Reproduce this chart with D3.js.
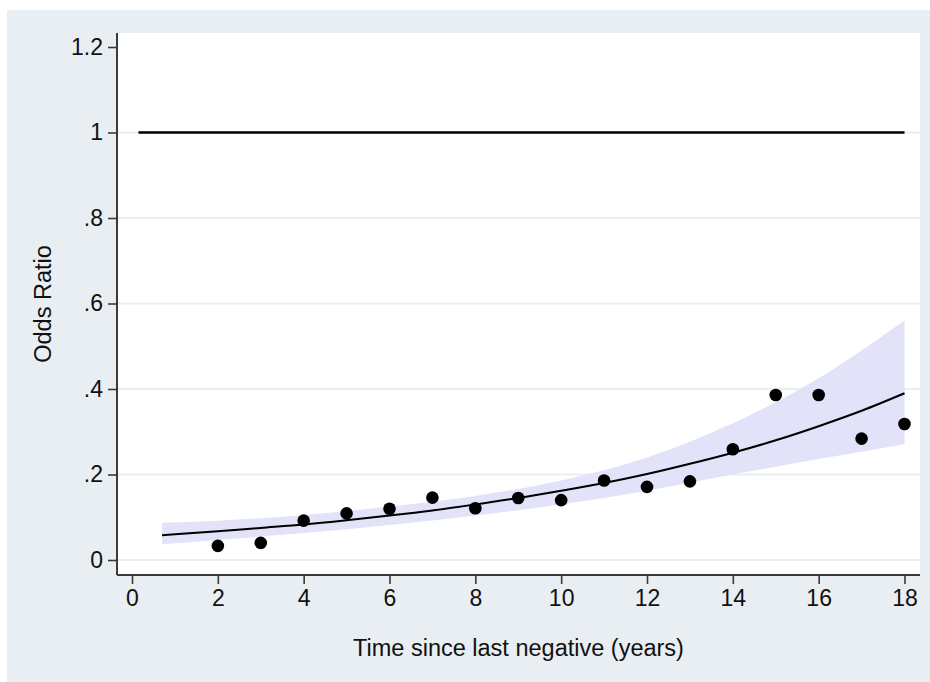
<!DOCTYPE html>
<html>
<head>
<meta charset="utf-8">
<script src="https://cdn.jsdelivr.net/npm/d3@7"></script>
<style>
  html, body { margin: 0; padding: 0; background: #ffffff; }
  svg text { font-family: "Liberation Sans", Arial, sans-serif; fill: #111; }
</style>
</head>
<body>
<svg id="chart"></svg>
<script>
// observed odds ratios by year since last negative
var years = [2, 3, 4, 5, 6, 7, 8, 9, 10, 11, 12, 13, 14, 15, 16, 17, 18];
var oddsRatio = [0.033, 0.040, 0.092, 0.109, 0.120, 0.146, 0.121, 0.145, 0.140, 0.186, 0.171, 0.184, 0.259, 0.386, 0.386, 0.284, 0.318];

// fitted curve
var fitX = [0.7, 1, 2, 3, 4, 5, 6, 7, 8, 9, 10, 11, 12, 13, 14, 15, 16, 17, 18];
var fitY = [0.058, 0.060, 0.067, 0.075, 0.083, 0.093, 0.104, 0.116, 0.130, 0.145, 0.162, 0.180, 0.201, 0.225, 0.251, 0.280, 0.313, 0.349, 0.390];

// confidence band
var bandX = [0.7, 2, 4, 6, 8, 10, 12, 14, 16, 18];
var bandUpper = [0.087, 0.092, 0.105, 0.125, 0.150, 0.186, 0.240, 0.320, 0.425, 0.560];
var bandLower = [0.037, 0.047, 0.063, 0.082, 0.104, 0.130, 0.162, 0.200, 0.236, 0.271];

// reference line at OR = 1
var refX = [0.15, 18];
var refY = [1, 1];

var xTicks = [0, 2, 4, 6, 8, 10, 12, 14, 16, 18];
var yTicks = [0, 0.2, 0.4, 0.6, 0.8, 1, 1.2];
var yTickLabels = ["0", ".2", ".4", ".6", ".8", "1", "1.2"];

var width = 930, height = 682;
var svg = d3.select("#chart").attr("width", width).attr("height", height);

// outer graph region
svg.append("rect")
  .attr("x", 7).attr("y", 10)
  .attr("width", width - 7).attr("height", height - 10)
  .attr("fill", "#e8eef1");

// plot region
var plotLeft = 117, plotRight = 920, plotTop = 33, plotBottom = 575;
svg.append("rect")
  .attr("x", plotLeft).attr("y", plotTop)
  .attr("width", plotRight - plotLeft).attr("height", plotBottom - plotTop)
  .attr("fill", "#ffffff");

var x = d3.scaleLinear().domain([0, 18]).range([132, 904.5]);
var y = d3.scaleLinear().domain([0, 1.2]).range([560, 47]);

// grid lines
svg.append("g").selectAll("line")
  .data(yTicks.slice(0, 6))
  .enter().append("line")
  .attr("x1", plotLeft + 1).attr("x2", plotRight)
  .attr("y1", function(d) { return y(d); })
  .attr("y2", function(d) { return y(d); })
  .attr("stroke", "#e9eff1")
  .attr("stroke-width", 2);

// CI band
var bandData = bandX.map(function(v, i) { return { x: v, lo: bandLower[i], hi: bandUpper[i] }; });
svg.append("path")
  .datum(bandData)
  .attr("fill", "#e2e2f8")
  .attr("d", d3.area()
    .curve(d3.curveMonotoneX)
    .x(function(d) { return x(d.x); })
    .y0(function(d) { return y(d.lo); })
    .y1(function(d) { return y(d.hi); }));

// reference line
svg.append("path")
  .datum(refX.map(function(v, i) { return [v, refY[i]]; }))
  .attr("fill", "none")
  .attr("stroke", "#000")
  .attr("stroke-width", 2.5)
  .attr("d", d3.line().x(function(d) { return x(d[0]); }).y(function(d) { return y(d[1]); }));

// fitted curve
svg.append("path")
  .datum(fitX.map(function(v, i) { return [v, fitY[i]]; }))
  .attr("fill", "none")
  .attr("stroke", "#000")
  .attr("stroke-width", 2)
  .attr("d", d3.line().curve(d3.curveMonotoneX)
    .x(function(d) { return x(d[0]); }).y(function(d) { return y(d[1]); }));

// points
svg.append("g").selectAll("circle")
  .data(years)
  .enter().append("circle")
  .attr("cx", function(d) { return x(d); })
  .attr("cy", function(d, i) { return y(oddsRatio[i]); })
  .attr("r", 6.3)
  .attr("fill", "#000");

// y axis
var yAxis = svg.append("g")
  .attr("transform", "translate(" + plotLeft + ",0)")
  .call(d3.axisLeft(y).tickValues(yTicks)
    .tickFormat(function(d, i) { return yTickLabels[i]; })
    .tickSize(9).tickPadding(5).tickSizeOuter(0));
yAxis.select(".domain").attr("d", "M0," + plotTop + "V" + plotBottom);

// x axis
var xAxis = svg.append("g")
  .attr("transform", "translate(0," + plotBottom + ")")
  .call(d3.axisBottom(x).tickValues(xTicks).tickSize(9).tickPadding(6).tickSizeOuter(0));
xAxis.select(".domain").attr("d", "M" + plotLeft + ",0H" + plotRight);

svg.selectAll(".domain").attr("stroke", "#3a3a3a").attr("stroke-width", 2);
svg.selectAll(".tick line").attr("stroke", "#3a3a3a").attr("stroke-width", 1.6);
svg.selectAll(".tick text").attr("font-size", 23).attr("fill", "#111")
  .attr("font-family", "Liberation Sans, Arial, sans-serif");

// axis titles
svg.append("text")
  .attr("x", (plotLeft + plotRight) / 2)
  .attr("y", 656)
  .attr("text-anchor", "middle")
  .attr("font-size", 23.5)
  .text("Time since last negative (years)");

svg.append("text")
  .attr("transform", "translate(51," + ((plotTop + plotBottom) / 2) + ") rotate(-90)")
  .attr("text-anchor", "middle")
  .attr("font-size", 23.5)
  .text("Odds Ratio");
</script>
</body>
</html>
